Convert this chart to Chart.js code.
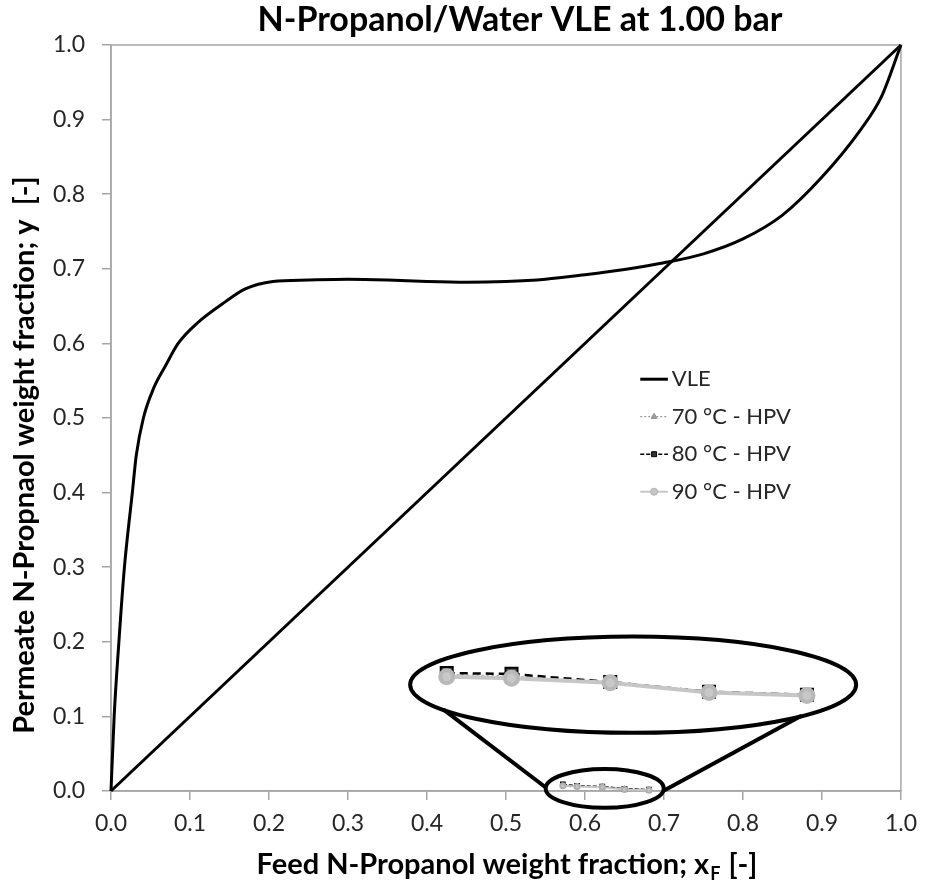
<!DOCTYPE html>
<html lang="en">
<head>
<meta charset="UTF-8" />
<title>N-Propanol/Water VLE</title>
<script src="https://cdn.jsdelivr.net/npm/chart.js"></script>
<style>
  body { margin: 0; background: #fff; }
  #wrap { width: 927px; height: 890px; }
</style>
</head>
<body>
<div id="wrap"><canvas id="vle" width="927" height="890"></canvas></div>
<script>
  // axis ticks (both axes 0..1)
  const tickVals = [0, 0.1, 0.2, 0.3, 0.4, 0.5, 0.6, 0.7, 0.8, 0.9, 1.0];

  // VLE curve, weight fractions
  const vleX = [0, 0.004, 0.010, 0.017, 0.027, 0.032, 0.041, 0.054, 0.069, 0.085, 0.11, 0.145, 0.17, 0.205,
                0.25, 0.30, 0.35, 0.40, 0.45, 0.50, 0.55, 0.60, 0.65, 0.70, 0.75, 0.80, 0.85,
                0.90, 0.95, 0.975, 1.0];
  const vleY = [0, 0.10, 0.20, 0.30, 0.40, 0.45, 0.50, 0.54, 0.57, 0.60, 0.628, 0.656, 0.673, 0.683,
                0.685, 0.686, 0.685, 0.683, 0.682, 0.683, 0.686, 0.692, 0.699, 0.708, 0.72, 0.74, 0.772,
                0.823, 0.888, 0.93, 1.0];

  // y = x line
  const diagX = [0, 1];
  const diagY = [0, 1];

  // HPV runs (feed vs permeate), real scale
  const feedX  = [0.572, 0.590, 0.622, 0.650, 0.681];
  const perm70 = [0.008, 0.006, 0.006, 0.003, 0.002];
  const perm80 = [0.009, 0.007, 0.006, 0.003, 0.002];
  const perm90 = [0.007, 0.006, 0.005, 0.002, 0.001];

  // same runs as shown magnified inside the big ellipse
  const zoomX   = [0.425, 0.507, 0.632, 0.757, 0.881];
  const zoom70  = [0.156, 0.154, 0.145, 0.133, 0.128];
  const zoom80  = [0.158, 0.157, 0.146, 0.133, 0.129];
  const zoom90  = [0.153, 0.151, 0.145, 0.132, 0.128];

  const pts = (xs, ys) => xs.map((x, i) => ({ x: x, y: ys[i] }));

  const black = '#000000';
  const lightGray = '#c6c6c6';
  const midGray = '#9a9a9a';

  const datasets = [
    { label: 'VLE', data: pts(vleX, vleY), borderColor: black, borderWidth: 3,
      pointRadius: 0, cubicInterpolationMode: 'monotone', order: 4 },
    { label: '70 °C - HPV', data: pts(feedX, perm70), borderColor: midGray, borderWidth: 1.2,
      borderDash: [2, 2], pointStyle: 'triangle', pointRadius: 2.5,
      pointBackgroundColor: midGray, pointBorderColor: midGray, order: 3 },
    { label: '80 °C - HPV', data: pts(feedX, perm80), borderColor: black, borderWidth: 1.5,
      borderDash: [4, 2], pointStyle: 'rect', pointRadius: 3,
      pointBackgroundColor: '#333', pointBorderColor: black, order: 2 },
    { label: '90 °C - HPV', data: pts(feedX, perm90), borderColor: lightGray, borderWidth: 2,
      pointStyle: 'circle', pointRadius: 2.5,
      pointBackgroundColor: lightGray, pointBorderColor: '#b0b0b0', order: 1 },
    // y = x
    { label: 'diag', data: pts(diagX, diagY), borderColor: black, borderWidth: 3,
      pointRadius: 0, order: 5 },
    // magnified copies
    { label: 'z70', data: pts(zoomX, zoom70), borderColor: midGray, borderWidth: 1.5,
      borderDash: [2, 3], pointStyle: 'triangle', pointRadius: 5,
      pointBackgroundColor: midGray, pointBorderColor: midGray, order: 3 },
    { label: 'z80', data: pts(zoomX, zoom80), borderColor: black, borderWidth: 2.5,
      borderDash: [8, 5], pointStyle: 'rect', pointRadius: 8.5, pointBorderWidth: 2,
      pointBackgroundColor: '#555', pointBorderColor: black, order: 2 },
    { label: 'z90', data: pts(zoomX, zoom90), borderColor: lightGray, borderWidth: 4,
      pointStyle: 'circle', pointRadius: 6.5,
      pointBackgroundColor: '#c8c8c8', pointBorderColor: '#b8b8b8', order: 1 }
  ];
  datasets.forEach(d => { d.showLine = true; d.fill = false; d.clip = false; });

  const legendOrder = [0, 1, 2, 3];

  function marker(ctx, style, x, y, r, fill, stroke) {
    ctx.save();
    ctx.fillStyle = fill;
    ctx.strokeStyle = stroke;
    ctx.lineWidth = 1;
    ctx.setLineDash([]);
    ctx.beginPath();
    if (style === 'rect') {
      const h = r * Math.SQRT1_2;
      ctx.rect(x - h, y - h, 2 * h, 2 * h);
    } else if (style === 'triangle') {
      ctx.moveTo(x, y - r);
      ctx.lineTo(x + r * 0.87, y + r * 0.5);
      ctx.lineTo(x - r * 0.87, y + r * 0.5);
      ctx.closePath();
    } else {
      ctx.arc(x, y, r, 0, Math.PI * 2);
    }
    ctx.fill();
    ctx.stroke();
    ctx.restore();
  }

  const decor = {
    id: 'decor',
    beforeDatasetsDraw(chart) {
      const { ctx, chartArea: a } = chart;
      ctx.save();
      ctx.strokeStyle = '#a6a6a6';
      ctx.lineWidth = 1.5;
      ctx.strokeRect(a.left, a.top, a.right - a.left, a.bottom - a.top);
      ctx.restore();
    },
    afterDatasetsDraw(chart) {
      const { ctx } = chart;
      const xs = chart.scales.x, ys = chart.scales.y;
      const px = v => xs.getPixelForValue(v);
      const py = v => ys.getPixelForValue(v);
      const ellipse = (cx, cy, rx, ry) => {
        const x0 = px(cx), y0 = py(cy);
        ctx.beginPath();
        ctx.ellipse(x0, y0, px(cx + rx) - x0, y0 - py(cy + ry), 0, 0, Math.PI * 2);
        ctx.stroke();
      };
      const seg = (x1, y1, x2, y2) => {
        ctx.beginPath();
        ctx.moveTo(px(x1), py(y1));
        ctx.lineTo(px(x2), py(y2));
        ctx.stroke();
      };
      ctx.save();
      ctx.strokeStyle = black;
      ctx.lineWidth = 4;
      ellipse(0.661, 0.1425, 0.2823, 0.0645);
      ellipse(0.625, 0.0034, 0.0747, 0.026);
      seg(0.421, 0.109, 0.550, 0.005);
      seg(0.874, 0.101, 0.699, 0.000);
      ctx.restore();
    },
    afterDraw(chart) {
      const { ctx } = chart;
      const xs = chart.scales.x, ys = chart.scales.y;
      ctx.save();
      ctx.fillStyle = '#000';

      // chart title
      ctx.font = 'bold 34px Lato';
      ctx.textAlign = 'center';
      ctx.textBaseline = 'alphabetic';
      ctx.fillText('N-Propanol/Water VLE at 1.00 bar', 520, 31);

      // x axis title with subscript F
      const main = 'Feed N-Propanol weight fraction; x', sub = 'F', tail = ' [-]';
      ctx.font = 'bold 29px Lato';
      const w1 = ctx.measureText(main).width, w3 = ctx.measureText(tail).width;
      ctx.font = 'bold 18px Lato';
      const w2 = ctx.measureText(sub).width;
      let sx = 506 - (w1 + w2 + w3) / 2;
      ctx.textAlign = 'left';
      ctx.font = 'bold 29px Lato';
      ctx.fillText(main, sx, 874);
      ctx.font = 'bold 18px Lato';
      ctx.fillText(sub, sx + w1 + 1, 880);
      ctx.font = 'bold 29px Lato';
      ctx.fillText(tail, sx + w1 + w2 + 2, 874);

      // y axis title
      ctx.save();
      ctx.translate(34, 455);
      ctx.rotate(-Math.PI / 2);
      ctx.textAlign = 'center';
      ctx.fillText('Permeate N-Propnaol weight fraction; y  [-]', 0, 0);
      ctx.restore();

      // legend
      ctx.font = '22px Lato';
      ctx.textBaseline = 'middle';
      ctx.textAlign = 'left';
      const lx0 = xs.getPixelForValue(0.67), lx1 = xs.getPixelForValue(0.705);
      const tx = xs.getPixelForValue(0.71);
      legendOrder.forEach((di, i) => {
        const d = datasets[di];
        const y = ys.getPixelForValue(0.552) + i * 37.5;
        ctx.save();
        ctx.strokeStyle = d.borderColor;
        ctx.lineWidth = d.borderWidth;
        ctx.setLineDash(d.borderDash || []);
        ctx.beginPath();
        ctx.moveTo(lx0, y);
        ctx.lineTo(lx1, y);
        ctx.stroke();
        ctx.restore();
        if (d.pointRadius > 0) {
          marker(ctx, d.pointStyle, (lx0 + lx1) / 2, y, 3.5, d.pointBackgroundColor, d.pointBorderColor);
        }
        ctx.fillStyle = '#262626';
        ctx.fillText(d.label, tx, y);
      });
      ctx.restore();
    }
  };

  const axisOpts = (fit) => ({
    type: 'linear',
    min: 0,
    max: 1,
    afterBuildTicks: s => { s.ticks = tickVals.map(v => ({ value: v })); },
    afterFit: fit,
    ticks: {
      callback: v => v.toFixed(1),
      font: { family: 'Lato', size: 23 },
      color: '#262626',
      maxRotation: 0,
      autoSkip: false
    },
    grid: { drawOnChartArea: false, drawTicks: true, tickLength: 9, color: '#a6a6a6', lineWidth: 1.5 },
    border: { display: true, color: '#a6a6a6', width: 1.5 }
  });

  const xAxis = axisOpts(s => { s.height = 99; });
  xAxis.ticks.padding = 10;
  const yAxis = axisOpts(s => { s.width = 111; });
  yAxis.ticks.padding = 17;

  new Chart(document.getElementById('vle').getContext('2d'), {
    type: 'scatter',
    data: { datasets: datasets },
    options: {
      responsive: false,
      animation: false,
      layout: { padding: { top: 45, right: 19, left: 0, bottom: 0 } },
      plugins: {
        legend: { display: false },
        tooltip: { enabled: false },
        title: { display: false }
      },
      scales: { x: xAxis, y: yAxis }
    },
    plugins: [decor]
  });
</script>
</body>
</html>
